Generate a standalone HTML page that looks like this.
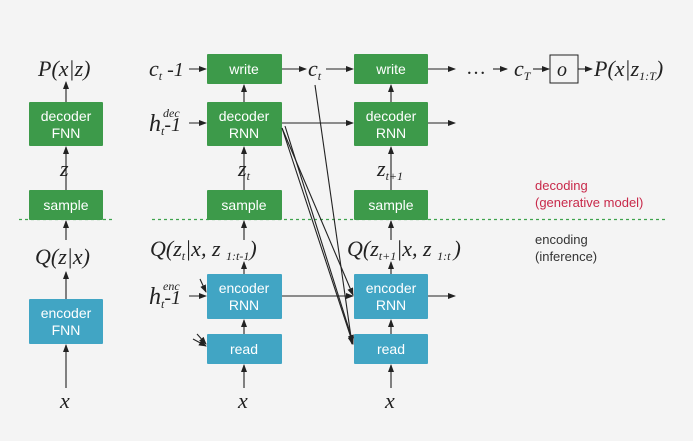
<!DOCTYPE html>
<html><head><meta charset="utf-8"><style>
html,body{margin:0;padding:0;background:#f4f4f4;}
svg{display:block;}
.b{font-family:"Liberation Sans",sans-serif;font-size:14px;fill:#fff;text-anchor:middle;}
.m{font-family:"Liberation Serif",serif;font-style:italic;fill:#222;}
</style></head><body>
<svg width="693" height="441" viewBox="0 0 693 441" xmlns="http://www.w3.org/2000/svg">
<defs><marker id="a" markerWidth="8" markerHeight="6" refX="7" refY="3" orient="auto" markerUnits="userSpaceOnUse"><path d="M0,0 L8,3 L0,6 z" fill="#222"/></marker></defs>
<rect width="693" height="441" fill="#f4f4f4"/>
<g stroke="#3fa34d" stroke-dasharray="3,3" stroke-width="1.2"><line x1="19" y1="219.5" x2="112" y2="219.5"/><line x1="152" y1="219.5" x2="668" y2="219.5"/></g>
<g fill="#3d9a4a">
<rect x="29" y="102" width="74" height="44" rx="1"/><rect x="29" y="190" width="74" height="30" rx="1"/>
<rect x="207" y="54" width="75" height="30" rx="1"/><rect x="207" y="102" width="75" height="44" rx="1"/><rect x="207" y="190" width="75" height="30" rx="1"/>
<rect x="354" y="54" width="74" height="30" rx="1"/><rect x="354" y="102" width="74" height="44" rx="1"/><rect x="354" y="190" width="74" height="30" rx="1"/>
</g>
<g fill="#41a5c4">
<rect x="29" y="299" width="74" height="45" rx="1"/>
<rect x="207" y="274" width="75" height="45" rx="1"/><rect x="207" y="334" width="75" height="30" rx="1"/>
<rect x="354" y="274" width="74" height="45" rx="1"/><rect x="354" y="334" width="74" height="30" rx="1"/>
</g>
<g class="b">
<text x="66" y="121">decoder</text><text x="66" y="138">FNN</text><text x="66" y="210">sample</text>
<text x="66" y="318">encoder</text><text x="66" y="335">FNN</text>
<text x="244" y="74">write</text><text x="244" y="121">decoder</text><text x="244" y="138">RNN</text><text x="244" y="210">sample</text>
<text x="244" y="293">encoder</text><text x="244" y="310">RNN</text><text x="244" y="354">read</text>
<text x="391" y="74">write</text><text x="391" y="121">decoder</text><text x="391" y="138">RNN</text><text x="391" y="210">sample</text>
<text x="391" y="293">encoder</text><text x="391" y="310">RNN</text><text x="391" y="354">read</text>
</g>
<g stroke="#222" stroke-width="1.1" fill="none" marker-end="url(#a)">
<line x1="66" y1="102" x2="66" y2="82"/><line x1="66" y1="190" x2="66" y2="147"/><line x1="66" y1="240" x2="66" y2="221"/><line x1="66" y1="299" x2="66" y2="272"/><line x1="66" y1="388" x2="66" y2="345"/>
<line x1="244" y1="102" x2="244" y2="85"/><line x1="244" y1="190" x2="244" y2="147"/><line x1="244" y1="240" x2="244" y2="221"/><line x1="244" y1="274" x2="244" y2="262"/><line x1="244" y1="334" x2="244" y2="320"/><line x1="244" y1="388" x2="244" y2="365"/>
<line x1="391" y1="102" x2="391" y2="85"/><line x1="391" y1="190" x2="391" y2="147"/><line x1="391" y1="240" x2="391" y2="221"/><line x1="391" y1="274" x2="391" y2="262"/><line x1="391" y1="334" x2="391" y2="320"/><line x1="391" y1="388" x2="391" y2="365"/>
<line x1="189" y1="69" x2="206" y2="69"/><line x1="189" y1="123" x2="206" y2="123"/><line x1="189" y1="296" x2="206" y2="296"/>
<line x1="200" y1="279" x2="206" y2="292"/><line x1="193" y1="339" x2="206" y2="346"/><line x1="197" y1="334" x2="206" y2="344"/>
<line x1="282" y1="69" x2="306" y2="69"/><line x1="326" y1="69" x2="353" y2="69"/>
<line x1="282" y1="123" x2="353" y2="123"/><line x1="282" y1="296" x2="353" y2="296"/>
<line x1="428" y1="69" x2="455" y2="69"/><line x1="428" y1="123" x2="455" y2="123"/><line x1="428" y1="296" x2="455" y2="296"/>
<line x1="493" y1="69" x2="507" y2="69"/><line x1="533" y1="69" x2="549" y2="69"/><line x1="578" y1="69" x2="592" y2="69"/>
<line x1="282" y1="128" x2="353" y2="295"/><line x1="282" y1="128" x2="353" y2="344"/><line x1="285" y1="126" x2="353" y2="342"/><line x1="315" y1="85" x2="352" y2="344"/>
</g>
<rect x="550" y="55" width="28" height="28" fill="none" stroke="#222" stroke-width="1"/>
<g class="m">
<text x="38" y="76" font-size="22">P(x|z)</text>
<text x="60" y="176" font-size="22">z</text>
<text x="35" y="264" font-size="22">Q(z|x)</text>
<text x="60" y="408" font-size="22">x</text>
<text x="238" y="408" font-size="22">x</text>
<text x="385" y="408" font-size="22">x</text>
<text x="149" y="76" font-size="22">c<tspan font-size="12" dy="4">t</tspan><tspan dy="-4" font-size="20"> -1</tspan></text>
<text x="149" y="131" font-size="24">h<tspan font-size="12" dy="4">t</tspan><tspan dy="-4" font-size="20">-1</tspan></text>
<text x="163" y="117" font-size="12">dec</text>
<text x="149" y="304" font-size="24">h<tspan font-size="12" dy="4">t</tspan><tspan dy="-4" font-size="20">-1</tspan></text>
<text x="163" y="290" font-size="12">enc</text>
<text x="308" y="76" font-size="22">c<tspan font-size="12" dy="4">t</tspan></text>
<text x="238" y="176" font-size="22">z<tspan font-size="12" dy="4">t</tspan></text>
<text x="377" y="176" font-size="22">z<tspan font-size="12" dy="4">t+1</tspan></text>
<text x="150" y="256" font-size="22">Q(z<tspan font-size="12" dy="4">t</tspan><tspan dy="-4">|x, z </tspan><tspan font-size="12" dy="4">1:t-1</tspan><tspan dy="-4">)</tspan></text>
<text x="347" y="256" font-size="22">Q(z<tspan font-size="12" dy="4">t+1</tspan><tspan dy="-4">|x, z </tspan><tspan font-size="12" dy="4">1:t </tspan><tspan dy="-4">)</tspan></text>
<text x="466" y="74" font-size="20" font-style="normal">…</text>
<text x="514" y="76" font-size="22">c<tspan font-size="12" dy="4">T</tspan></text>
<text x="557" y="76" font-size="20">o</text>
<text x="594" y="76" font-size="22">P(x|z<tspan font-size="12" dy="4">1:T</tspan><tspan dy="-4">)</tspan></text>
</g>
<g font-family="Liberation Sans,sans-serif" font-size="13">
<text x="535" y="190" fill="#c8294a">decoding</text><text x="535" y="207" fill="#c8294a">(generative model)</text>
<text x="535" y="244" fill="#333">encoding</text><text x="535" y="261" fill="#333">(inference)</text>
</g>
</svg>
</body></html>
